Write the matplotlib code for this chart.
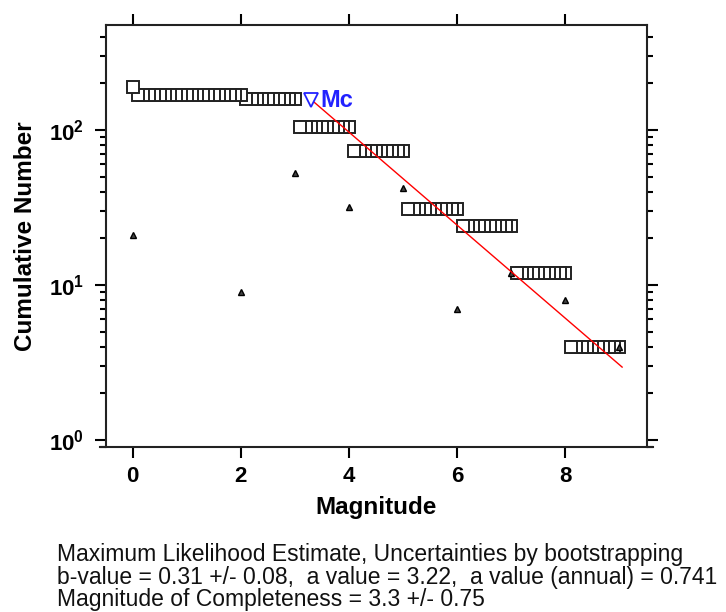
import numpy as np
import matplotlib
matplotlib.use('Agg')
import matplotlib.pyplot as plt

plt.rcParams['font.family'] = ['Liberation Sans', 'DejaVu Sans']
plt.rcParams['mathtext.fontset'] = 'custom'
plt.rcParams['mathtext.rm'] = 'Liberation Sans'
plt.rcParams['mathtext.bf'] = 'Liberation Sans:bold'

# events per magnitude bin (non-cumulative)
bin_mag = [0, 2, 3, 4, 5, 6, 7, 8, 9]
bin_count = [21, 9, 53, 32, 42, 7, 12, 8, 4]

# cumulative number N(M >= m), bins of 0.1
cum_mag = np.round(np.arange(0, 9.01, 0.1), 1)
cum_steps = [(0.0, 188), (2.0, 167), (3.0, 158), (4.0, 105), (5.0, 73),
             (6.0, 31), (7.0, 24), (8.0, 12), (9.0, 4)]

# fitted Gutenberg-Richter line and completeness magnitude
fit_mag = [3.3, 9.05]
fit_n = [157, 2.95]
mc_mag = 3.3
mc_n = 155

xticks = [0, 2, 4, 6, 8]
yticks = [1, 10, 100]
ytick_labels = [r'$\mathbf{10^{0}}$', r'$\mathbf{10^{1}}$', r'$\mathbf{10^{2}}$']

info_lines = ['Maximum Likelihood Estimate, Uncertainties by bootstrapping',
              'b-value = 0.31 +/- 0.08,  a value = 3.22,  a value (annual) = 0.741',
              'Magnitude of Completeness = 3.3 +/- 0.75']


def cumulative_values():
    vals = []
    for m in cum_mag:
        v = None
        for edge, n in cum_steps:
            if m <= edge + 1e-9:
                v = n
                break
        vals.append(v)
    return vals


fig = plt.figure(figsize=(7.26, 6.12), dpi=100)
ax = fig.add_axes([106 / 726, 1 - 447 / 612, (647 - 106) / 726, (447 - 25) / 612])

cum_n = cumulative_values()
# draw from high to low magnitude so the low-magnitude boxes sit on top
ax.plot(cum_mag[::-1], cum_n[::-1], ls='none', marker='s', ms=9,
        mfc='white', mec='#222222', mew=1.4, zorder=3)
ax.plot(bin_mag, bin_count, ls='none', marker='^', ms=4.5,
        mfc='#444444', mec='black', mew=1.0, zorder=4)
ax.plot(fit_mag, fit_n, color='red', lw=1.0, zorder=5)
ax.plot([mc_mag], [mc_n], ls='none', marker='v', ms=10, mfc='white',
        mec='#2222ff', mew=1.3, zorder=6)
ax.text(mc_mag + 0.17, mc_n, 'Mc', color='#2222ff', fontsize=17,
        fontweight='bold', va='center', ha='left', zorder=6)

ax.set_yscale('log')
ax.set_xlim(-0.49, 9.51)
ax.set_ylim(0.9, 475)

ax.set_xticks(xticks)
ax.set_xticklabels([str(t) for t in xticks], fontsize=16, fontweight='bold')
ax.set_yticks(yticks)
ax.set_yticklabels(ytick_labels, fontsize=16)
ax.tick_params(axis='both', which='major', direction='out', length=8,
               width=1.5, top=True, right=True, labeltop=False, labelright=False)
ax.tick_params(axis='x', pad=6)
ax.tick_params(axis='y', pad=8)
ax.tick_params(axis='y', which='minor', direction='out', length=4,
               width=1.5, right=True)
ax.tick_params(axis='x', which='minor', bottom=False, top=False)

for s in ax.spines.values():
    s.set_linewidth(1.5)
    s.set_color('#222222')
ax.spines['bottom'].set_bounds(-0.6, 9.62)

ax.set_xlabel('Magnitude', fontsize=17.5, fontweight='bold', labelpad=6)
ax.set_ylabel('Cumulative Number', fontsize=17.5, fontweight='bold', labelpad=8)

fig.text(57 / 726, 1 - 606 / 612, '\n'.join(info_lines), fontsize=16.5,
         family=['Liberation Sans Narrow', 'Liberation Sans'],
         va='baseline', ha='left', color='#111111', linespacing=0.97)

fig.savefig('out.png', dpi=100)
